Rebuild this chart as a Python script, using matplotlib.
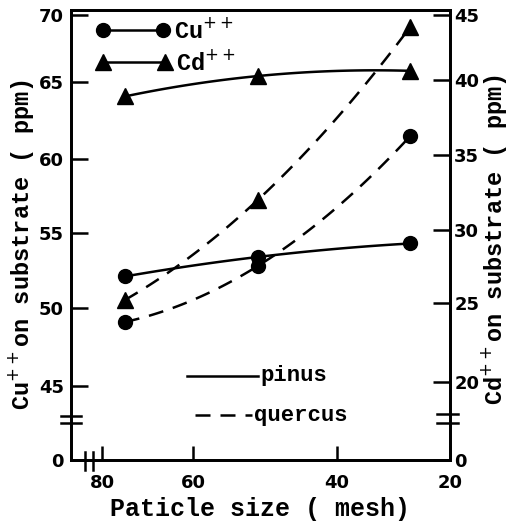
import numpy as np
import matplotlib
matplotlib.use("Agg")
import matplotlib.pyplot as plt
from matplotlib.lines import Line2D

# ---- data ----
mesh = [75, 51, 27]
cu_pinus = [52.1, 53.4, 54.3]
cu_quercus = [49.1, 52.8, 61.5]
cd_pinus = [38.9, 40.3, 40.7]
cd_quercus = [25.2, 32.0, 44.1]

x_ticks = [80, 60, 40, 20]
cu_ticks = [40, 45, 50, 55, 60, 65, 70]
cu_labels = ["0", "45", "50", "55", "60", "65", "70"]
cd_ticks = [15, 20, 25, 30, 35, 40, 45]
cd_labels = ["0", "20", "25", "30", "35", "40", "45"]

# hand drawn axes are not quite linear -> piecewise scales (value -> pixel)
x_anchor = ([20, 40, 60, 80, 86], [450, 337, 193, 102, 71])
cu_anchor = ([40, 45, 50, 55, 60, 65, 70, 71], [460, 386, 308, 233, 159, 82, 15, 2])
cd_anchor = ([15, 20, 25, 30, 35, 40, 45, 46], [460, 382, 303, 230, 155, 80, 15, 2])


def make_scale(anchor):
    v = np.asarray(anchor[0], float)
    q = -np.asarray(anchor[1], float)
    fwd = lambda x: np.interp(x, v, q)
    inv = lambda y: np.interp(y, q, v)
    return fwd, inv


fx, ix = make_scale(x_anchor)
fcu, icu = make_scale(cu_anchor)
fcd, icd = make_scale(cd_anchor)


def smooth(xs, ys, f1, i1, f2, i2):
    u = f1(np.asarray(xs, float))
    w = f2(np.asarray(ys, float))
    c = np.polyfit(u, w, 2)
    uu = np.linspace(u[0], u[-1], 80)
    return i1(uu), i2(np.polyval(c, uu))


W, H = 510, 523
fig = plt.figure(figsize=(W / 100, H / 100), dpi=100)
ax = fig.add_axes([71 / W, 63 / H, 379 / W, 450 / H])
ax2 = ax.twinx()

ax.set_xscale("function", functions=(fx, ix))
ax.set_yscale("function", functions=(fcu, icu))
ax2.set_yscale("function", functions=(fcd, icd))
ax.set_xlim(86, 20)
ax.set_ylim(40, 70.38)
ax2.set_ylim(15, 45.38)

lw = 1.8
ms = 10
# Cu (left axis)
sx, sy = smooth(mesh, cu_pinus, fx, ix, fcu, icu)
ax.plot(sx, sy, color="black", lw=lw)
sx, sy = smooth(mesh, cu_quercus, fx, ix, fcu, icu)
ax.plot(sx, sy, color="black", lw=lw, dashes=(6, 4))
ax.plot(mesh, cu_pinus, "o", color="black", ms=ms)
ax.plot(mesh, cu_quercus, "o", color="black", ms=ms)
# Cd (right axis)
sx, sy = smooth(mesh, cd_pinus, fx, ix, fcd, icd)
ax2.plot(sx, sy, color="black", lw=lw)
sx, sy = smooth(mesh, cd_quercus, fx, ix, fcd, icd)
ax2.plot(sx, sy, color="black", lw=lw, dashes=(6, 4))
ax2.plot(mesh, cd_pinus, "^", color="black", ms=ms + 1)
ax2.plot(mesh, cd_quercus, "^", color="black", ms=ms + 1)

# ticks
ax.set_xticks(x_ticks)
ax.set_xticklabels([str(t) for t in x_ticks])
ax.set_yticks(cu_ticks)
ax.set_yticklabels(cu_labels)
ax2.set_yticks(cd_ticks)
ax2.set_yticklabels(cd_labels)
ax.minorticks_off()
ax2.minorticks_off()
ax.tick_params(axis="y", direction="in", length=12, width=1.8, labelsize=13, pad=5)
ax.tick_params(axis="x", direction="in", length=10, width=1.8, labelsize=13, pad=10)
ax2.tick_params(axis="y", direction="in", length=12, width=1.8, labelsize=13, pad=3)
for lab in ax.get_xticklabels() + ax.get_yticklabels() + ax2.get_yticklabels():
    lab.set_fontweight("bold")
for a in (ax, ax2):
    for s in a.spines.values():
        s.set_linewidth(2)

mono = "Liberation Mono"
ax.set_xlabel("Paticle size ( mesh)", family=mono, fontweight="bold", fontsize=18, labelpad=4)
fig.text(21 / W, 1 - 245 / H, "Cu$^{++}$on substrate ( ppm)", rotation=90,
         ha="center", va="center", family=mono, fontweight="bold", fontsize=17)
fig.text(494 / W, 1 - 240 / H, "Cd$^{++}$on substrate ( ppm)", rotation=90,
         ha="center", va="center", family=mono, fontweight="bold", fontsize=17)

# marker legend (top left)
def ax_xy(px, py):
    return (px - 71) / 379, (460 - py) / 450

x0, y0 = ax_xy(103, 30)
x1, _ = ax_xy(163, 30)
ax.plot([x0, x1], [y0, y0], "-o", color="black", lw=lw, ms=ms, transform=ax.transAxes, clip_on=False)
ax.text(ax_xy(174, 30)[0], y0, "Cu$^{++}$", transform=ax.transAxes, va="center",
        family=mono, fontweight="bold", fontsize=17)
x0, y0 = ax_xy(103, 62)
x1, _ = ax_xy(165, 62)
ax.plot([x0, x1], [y0, y0], "-^", color="black", lw=lw, ms=ms + 1, transform=ax.transAxes, clip_on=False)
ax.text(ax_xy(176, 62)[0], y0, "Cd$^{++}$", transform=ax.transAxes, va="center",
        family=mono, fontweight="bold", fontsize=17)

# line style legend
x0, y0 = ax_xy(187, 376)
x1, _ = ax_xy(258, 376)
ax.plot([x0, x1], [y0, y0], color="black", lw=lw, transform=ax.transAxes)
ax.text(ax_xy(260, 376)[0], y0, "pinus", transform=ax.transAxes, va="center",
        family=mono, fontweight="bold", fontsize=16)
x0, y0 = ax_xy(195, 415)
x1, _ = ax_xy(252, 415)
ax.plot([x0, x1], [y0, y0], color="black", lw=lw, dashes=(6, 4), transform=ax.transAxes)
ax.text(ax_xy(254, 415)[0], y0, "quercus", transform=ax.transAxes, va="center",
        family=mono, fontweight="bold", fontsize=16)

# axis break marks
def brk(xa, ya, xb, yb):
    fig.add_artist(Line2D([xa / W, xb / W], [1 - ya / H, 1 - yb / H],
                          color="black", lw=1.8, transform=fig.transFigure))

brk(61, 416, 81, 416)
brk(61, 423, 81, 423)
brk(437, 414, 458, 414)
brk(437, 423, 458, 423)
brk(85, 452, 85, 470)
brk(93, 452, 93, 470)

fig.savefig("out.png", dpi=100, facecolor="white")
